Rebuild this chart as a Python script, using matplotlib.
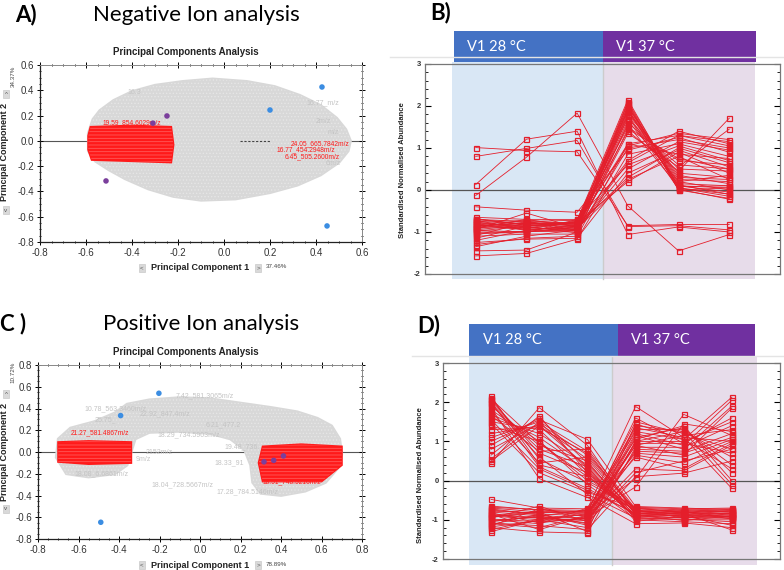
import matplotlib
matplotlib.use("Agg")
import numpy as np
import matplotlib.pyplot as plt
from matplotlib.patches import Polygon, Rectangle
from matplotlib.transforms import blended_transform_factory
from matplotlib.ticker import MultipleLocator

plt.rcParams['axes.unicode_minus'] = False
plt.rcParams['hatch.linewidth'] = 0.6

W, H = 784, 570

# ---------------- PCA, negative ion (A) ----------------
a_cloud_x = [-0.59, -0.57, -0.54, -0.48, -0.40, -0.30, -0.18, -0.05, 0.10, 0.22, 0.33, 0.42, 0.49,
             0.53, 0.55, 0.54, 0.50, 0.42, 0.32, 0.20, 0.05, -0.10, -0.22, -0.33, -0.43, -0.50, -0.56, -0.59]
a_cloud_y = [0.06, 0.17, 0.24, 0.32, 0.39, 0.44, 0.47, 0.49, 0.47, 0.43, 0.36, 0.28, 0.18,
             0.09, 0.0, -0.08, -0.17, -0.27, -0.35, -0.41, -0.46, -0.47, -0.44, -0.38, -0.30, -0.23, -0.16, -0.08]
a_red_x = [-0.58, -0.40, -0.23, -0.22, -0.23, -0.40, -0.575, -0.59, -0.59]
a_red_y = [0.11, 0.12, 0.11, -0.03, -0.17, -0.16, -0.15, -0.07, 0.04]
a_blue_x = [0.20, 0.426, 0.448]
a_blue_y = [0.244, 0.426, -0.673]
a_purple_x = [-0.309, -0.248, -0.513]
a_purple_y = [0.14, 0.197, -0.317]
a_red_labels = ["19.59_854.6029m/z", "24.05_665.7842m/z", "16.77_454.2948m/z", "6.45_505.2600m/z"]
a_red_lab_x = [-0.53, 0.29, 0.23, 0.265]
a_red_lab_y = [0.145, -0.022, -0.074, -0.126]
a_grey_labels = ["16.3", "16.77_m/z", "2m/z", "m/z", "6m/z"]
a_grey_lab_x = [-0.42, 0.36, 0.40, 0.45, 0.44]
a_grey_lab_y = [0.38, 0.30, 0.15, 0.07, -0.18]

# ---------------- PCA, positive ion (C) ----------------
c_cloud_x = [-0.71, -0.70, -0.64, -0.52, -0.42, -0.36, -0.25, -0.10, 0.05, 0.20, 0.35, 0.48, 0.58, 0.65,
             0.69, 0.70, 0.68, 0.62, 0.52, 0.40, 0.30, 0.26, 0.25, 0.22, 0.15, 0.05, -0.10, -0.25,
             -0.32, -0.34, -0.36, -0.42, -0.55, -0.66]
c_cloud_y = [-0.05, 0.12, 0.22, 0.28, 0.36, 0.44, 0.48, 0.50, 0.49, 0.45, 0.41, 0.37, 0.31, 0.24,
             0.12, -0.02, -0.15, -0.28, -0.36, -0.40, -0.38, -0.28, -0.12, 0.02, 0.12, 0.17, 0.19, 0.18,
             0.12, 0.0, -0.12, -0.20, -0.23, -0.20]
c_red1_x = [-0.70, -0.55, -0.34, -0.34, -0.55, -0.70]
c_red1_y = [0.09, 0.10, 0.09, -0.10, -0.11, -0.09]
c_red2_x = [0.31, 0.50, 0.70, 0.70, 0.60, 0.31, 0.29]
c_red2_y = [0.05, 0.07, 0.05, -0.12, -0.27, -0.27, -0.10]
c_blue_x = [-0.203, -0.392, -0.49]
c_blue_y = [0.54, 0.335, -0.646]
c_purple_x = [0.316, 0.364, 0.412]
c_purple_y = [-0.09, -0.077, -0.036]
c_red_labels = ["21.27_581.4867m/z", "18.51_748.5216m/z"]
c_red_lab_x = [-0.64, 0.31]
c_red_lab_y = [0.18, -0.27]
c_grey_labels = ["7.42_581.3065m/z", "10.78_563.3460m/z", "25.75_", "18.29_734.5903m/z", "6.21_477.2",
                 "19.48_736.", "2152m/z", "9m/z", "18.33_91", "18.04_728.5667m/z", "17.28_784.5146m/z",
                 "22.92_847.4m/z", "18.08_6.6861m/z"]
c_grey_lab_x = [-0.12, -0.57, -0.52, -0.21, 0.03, 0.12, -0.27, -0.32, 0.07, -0.24, 0.08, -0.30, -0.62]
c_grey_lab_y = [0.52, 0.40, 0.30, 0.16, 0.25, 0.05, 0.0, -0.07, -0.10, -0.30, -0.37, 0.35, -0.20]

# ---------------- Abundance profiles ----------------
timepoints = [1, 2, 3, 4, 5, 6]

# B: up in 37 C
b_up_rows = [
    [-0.70, -0.75, -0.72, 2.15, 0.05, -0.10],
    [-0.75, -0.80, -0.78, 2.10, 0.10, 0.05],
    [-0.80, -0.85, -0.80, 2.05, 0.00, -0.20],
    [-0.85, -0.78, -0.85, 2.00, 0.15, 0.10],
    [-0.90, -0.90, -0.75, 1.98, 0.20, 0.00],
    [-0.72, -0.95, -0.90, 1.95, 0.25, 0.20],
    [-0.95, -0.82, -0.95, 1.92, 0.05, -0.15],
    [-0.65, -0.70, -0.70, 1.90, 0.30, 0.25],
    [-1.00, -1.00, -0.88, 1.88, 0.10, -0.05],
    [-0.78, -0.88, -0.98, 1.85, 0.35, 0.15],
    [-0.88, -0.72, -0.82, 1.80, 0.40, 0.30],
    [-1.05, -0.98, -1.00, 1.75, 0.02, -0.22],
    [-0.82, -0.92, -0.76, 1.70, 0.50, 0.45],
    [-0.92, -0.76, -0.92, 1.65, 0.20, 0.35],
    [-1.10, -1.05, -1.05, 1.60, 0.60, 0.50],
    [-0.68, -0.84, -0.86, 1.55, 0.08, 0.10],
    [-0.98, -0.86, -0.74, 1.50, 0.70, 0.60],
    [-1.20, -0.96, -0.84, 1.40, 0.45, 1.71],
    [-0.74, -0.74, -0.96, 1.35, 0.55, 1.45],
    [-1.30, -1.15, -1.10, 1.10, 1.30, 1.15],
    [-0.86, -0.80, -0.80, 1.05, 1.35, 1.20],
    [-1.45, -1.43, -1.00, 1.00, 1.20, 1.00],
    [-0.40, -0.48, -0.53, 0.95, 1.25, 0.90],
    [-1.57, -1.51, -1.17, 0.85, 1.10, 0.80],
    [-0.94, -0.55, -0.90, 0.70, 1.40, 1.10],
    [-1.02, -1.02, -0.70, 0.60, 1.05, 0.70],
    [-0.76, -0.90, -0.94, 0.50, 1.15, 0.95],
    [-1.25, -1.17, -1.15, 0.40, 0.95, 0.55],
    [-0.84, -0.94, -0.86, 0.30, 1.00, 0.65],
    [-1.08, -0.78, -0.78, 0.20, 0.90, 0.40],
    [-0.96, -1.00, -0.92, 0.25, 0.80, 0.25],
    [-0.70, -0.82, -0.82, 1.10, 0.85, 0.75],
    [-1.15, -0.86, -1.02, 1.45, 0.75, 0.50],
    [-0.80, -0.96, -0.96, 2.08, 0.00, 0.05],
    [-0.90, -0.70, -0.88, 1.78, 0.12, -0.10],
    [-1.35, -1.10, -0.95, 0.65, 1.30, 1.05],
]
# B: down in 37 C
b_down_rows = [
    [1.01, 0.94, 0.91, -0.85, -0.82, -0.82],
    [0.80, 0.99, 1.18, -0.87, -0.85, -0.95],
    [0.13, 1.21, 1.40, -1.06, -0.88, -1.00],
    [-0.13, 0.78, 1.83, -0.38, -1.45, -1.06],
]

# D: down in 37 C
d_down_rows = [
    [2.15, 0.40, 0.10, -0.70, -0.75, -0.72],
    [2.10, 0.55, -0.05, -0.75, -0.80, -0.80],
    [2.05, 0.70, 0.20, -0.80, -0.85, -0.85],
    [2.00, 0.35, -0.20, -0.85, -0.90, -0.90],
    [1.98, 0.80, 0.35, -0.90, -0.95, -0.95],
    [1.95, 0.60, -0.35, -0.95, -1.00, -1.00],
    [1.90, 0.90, 0.50, -1.00, -1.05, -1.10],
    [1.85, 0.05, -0.43, -1.10, -1.08, -1.20],
    [1.80, 1.00, 0.00, -0.68, -0.72, -0.70],
    [1.75, 0.45, 0.60, -0.78, -0.82, -0.78],
    [1.70, 1.10, 0.25, -0.88, -0.88, -0.88],
    [1.65, 0.75, 0.80, -0.72, -0.78, -0.75],
    [1.60, 1.20, 0.40, -0.82, -0.92, -0.92],
    [1.50, 1.30, 0.15, -0.92, -0.80, -0.98],
    [1.40, 1.00, -0.10, -0.98, -0.98, -1.05],
    [1.30, 1.35, 0.70, -0.76, -0.86, -0.82],
    [1.20, 1.40, 0.55, -0.86, -0.76, -0.86],
    [1.10, 1.50, 0.30, -0.96, -0.94, -0.96],
    [1.00, 1.55, 1.05, -0.66, -0.70, -0.74],
    [0.90, 1.60, 0.45, -0.84, -0.84, -1.26],
    [0.80, 1.45, 0.65, -0.74, -0.96, -0.84],
    [0.65, 1.65, 0.20, -0.94, -0.88, -0.92],
    [0.55, 1.50, 0.75, -0.80, -0.74, -0.80],
    [0.45, 1.86, 0.90, -0.88, -1.02, -0.90],
    [0.50, 1.40, 0.35, -1.04, -0.90, -1.14],
    [1.45, 0.20, -0.30, -0.70, -0.82, -0.76],
    [1.55, 0.30, -0.25, -0.84, -0.78, -0.94],
    [2.08, 0.95, 0.10, -0.90, -0.86, -0.84],
]
# D: up in 37 C
d_up_rows = [
    [-0.48, -0.70, -0.72, 1.89, 1.10, 1.00],
    [-0.65, -0.75, -0.80, 1.50, 1.20, 0.80],
    [-0.70, -0.80, -0.85, 1.40, 1.25, 0.60],
    [-0.75, -0.85, -0.90, 1.30, 1.30, 0.40],
    [-0.80, -0.90, -0.75, 1.25, 1.05, 2.13],
    [-0.85, -0.95, -0.95, 1.20, 0.90, 2.05],
    [-0.90, -1.00, -1.00, 1.15, 0.80, 1.90],
    [-0.95, -0.65, -1.05, 1.10, 1.35, 0.20],
    [-1.00, -1.10, -0.70, 1.05, 1.40, 0.00],
    [-1.05, -0.90, -1.10, 1.00, 1.00, 1.50],
    [-1.10, -1.20, -0.88, 0.95, 0.95, 1.60],
    [-1.15, -0.72, -0.92, 0.90, 1.15, 1.30],
    [-1.20, -1.31, -1.34, 0.85, 0.85, 1.40],
    [-1.30, -1.00, -1.20, 0.80, 0.75, 1.20],
    [-0.72, -0.88, -0.98, 0.75, 0.70, 1.10],
    [-0.78, -0.82, -0.78, 0.70, 0.60, 1.05],
    [-0.88, -0.96, -1.02, 0.65, 0.45, 1.00],
    [-0.92, -0.78, -0.82, 0.60, 0.30, 0.95],
    [-0.98, -1.05, -0.96, 0.30, 0.25, 0.90],
    [-1.02, -0.92, -1.08, 0.20, 0.50, 0.80],
    [-1.08, -1.15, -1.25, 0.10, 0.19, 0.50],
    [-1.25, -0.98, -0.86, 0.05, 1.69, 1.15],
    [-0.82, -1.08, -0.94, -0.16, 1.45, 1.25],
    [-0.68, -0.74, -0.76, 1.35, 1.10, -0.20],
    [-1.12, -0.86, -1.14, 1.00, 1.25, -0.10],
    [-0.86, -1.25, -0.90, 1.60, 0.95, 0.70],
    [-0.94, -0.80, -1.30, 1.45, 1.05, 0.30],
    [-1.18, -1.02, -0.84, 0.90, 0.65, 1.85],
]

group_names = ["V1 28 \u00b0C", "V1 37 \u00b0C"]

RED = '#e41e2b'
HEAD_FONT = 'Lato'
PCA_FONT = 'Liberation Sans'


def px(x, y):
    return x / W, 1 - y / H


def box(x0, y0, x1, y1):
    return [x0 / W, 1 - y1 / H, (x1 - x0) / W, (y1 - y0) / H]


def small_button(fig, x, y, ch):
    fig.text(*px(x, y), ch, ha='center', va='center', fontsize=4.5, family=PCA_FONT, color='#555555',
             bbox=dict(boxstyle='square,pad=0.25', fc='#d9d9d9', ec='#c0c0c0', lw=0.4))


def pca_panel(ax, lim, cloud, reds, blue, purple, red_labels, grey_labels):
    ax.set_xlim(lim[0], lim[1])
    ax.set_ylim(lim[2], lim[3])
    ax.axhline(0, color='#555555', lw=0.8, zorder=1)
    pts = np.column_stack(cloud)
    ax.add_patch(Polygon(pts, closed=True, fc='#d8d8d8', ec='#d8d8d8', lw=2, zorder=2))
    # speckled texture of the overlapping labels
    ax.add_patch(Polygon(pts, closed=True, fill=False, hatch='.....', ec='#e6e6e6', lw=0, zorder=2.2))
    for txt, x, y in zip(*grey_labels):
        ax.text(x, y, txt, fontsize=5, color='#c4c4c4', family=PCA_FONT, zorder=2.5, va='center')
    for rx, ry in reds:
        rp = np.column_stack([rx, ry])
        ax.add_patch(Polygon(rp, closed=True, fc='#ff1a1a', ec='#ff1a1a', lw=1.5, zorder=3))
        ax.add_patch(Polygon(rp, closed=True, fill=False, hatch='-----', ec='#ff5a5a', lw=0, zorder=3.2))
    for txt, x, y in zip(*red_labels):
        ax.text(x, y, txt, fontsize=4.8, color='#ff1a1a', family=PCA_FONT, zorder=3.5, va='center')
    ax.scatter(blue[0], blue[1], s=16, color='#3b8de2', edgecolors='none', zorder=5)
    ax.scatter(purple[0], purple[1], s=16, color='#7b3f9c', edgecolors='none', zorder=5)
    ax.xaxis.set_major_locator(MultipleLocator(0.2))
    ax.xaxis.set_minor_locator(MultipleLocator(0.05))
    ax.yaxis.set_major_locator(MultipleLocator(0.2))
    ax.yaxis.set_minor_locator(MultipleLocator(0.05))
    ax.xaxis.set_major_formatter(lambda v, p: f"{v:.1f}")
    ax.yaxis.set_major_formatter(lambda v, p: f"{v:.1f}")
    ax.tick_params(which='major', direction='inout', length=4, width=0.7, top=True, right=True,
                   labelsize=7, labelcolor='#333333', pad=2)
    ax.tick_params(which='minor', direction='inout', length=2, width=0.6, top=True, right=True)
    for lab in ax.get_xticklabels() + ax.get_yticklabels():
        lab.set_family(PCA_FONT)
    for s in ['left', 'bottom']:
        ax.spines[s].set_color('#222222')
        ax.spines[s].set_linewidth(0.9)
    for s in ['top', 'right']:
        ax.spines[s].set_color('#888888')
        ax.spines[s].set_linewidth(0.7)


def profile_panel(ax, rows_a, rows_b, shade_edges, bar_edges, shade_y, bar_y, label_x):
    ax.set_xlim(0, 7)
    ax.set_ylim(-2, 3)
    tr = blended_transform_factory(ax.transData, ax.transAxes)
    shade_cols = ['#d9e7f5', '#e7dcea']
    bar_cols = ['#4472c4', '#7030a0']
    for i in range(2):
        ax.add_patch(Rectangle((shade_edges[i], shade_y[0]), shade_edges[i + 1] - shade_edges[i],
                               shade_y[1] - shade_y[0], transform=tr, fc=shade_cols[i], ec='none',
                               zorder=0, clip_on=False))
        ax.add_patch(Rectangle((bar_edges[i], bar_y[0]), bar_edges[i + 1] - bar_edges[i],
                               bar_y[1] - bar_y[0], transform=tr, fc=bar_cols[i], ec='none',
                               zorder=6, clip_on=False))
        ax.text(label_x[i], (bar_y[0] + bar_y[1]) / 2, group_names[i], transform=tr, color='white',
                fontsize=10.5, family=HEAD_FONT, va='center', ha='left', zorder=7)
    ax.plot([shade_edges[1], shade_edges[1]], [shade_y[0], shade_y[1]], transform=tr, color='#cccccc',
            lw=1, zorder=0.5, clip_on=False)
    ax.axhline(0, color='#555555', lw=0.9, zorder=1)
    for row in rows_a + rows_b:
        ax.plot(timepoints, row, color=RED, lw=0.6, marker='s', ms=3.6, mfc='none', mec=RED,
                mew=0.9, zorder=3)
    ax.set_xticks([])
    ax.yaxis.set_major_locator(MultipleLocator(1))
    ax.yaxis.set_minor_locator(MultipleLocator(0.2))
    ax.tick_params(axis='y', which='major', direction='in', length=4, width=0.8, left=True, right=True,
                   labelsize=5.5, labelcolor='#333333', pad=3)
    ax.tick_params(axis='y', which='minor', direction='in', length=2, width=0.6, left=True, right=True)
    for lab in ax.get_yticklabels():
        lab.set_family(PCA_FONT)
        lab.set_fontweight('bold')
    for s in ax.spines.values():
        s.set_color('#777777')
        s.set_linewidth(0.9)


fig = plt.figure(figsize=(W / 100, H / 100), dpi=100)

# --- A ---
axA = fig.add_axes(box(40, 65, 362, 242))
pca_panel(axA, (-0.8, 0.6, -0.8, 0.6), (a_cloud_x, a_cloud_y), [(a_red_x, a_red_y)],
          (a_blue_x, a_blue_y), (a_purple_x, a_purple_y),
          (a_red_labels, a_red_lab_x, a_red_lab_y), (a_grey_labels, a_grey_lab_x, a_grey_lab_y))
axA.plot([0.07, 0.2], [0, 0], color='#444444', lw=0.8, ls=(0, (2, 1.5)), zorder=4)

# --- C ---
axC = fig.add_axes(box(38, 365, 362, 539))
pca_panel(axC, (-0.8, 0.8, -0.8, 0.8), (c_cloud_x, c_cloud_y),
          [(c_red1_x, c_red1_y), (c_red2_x, c_red2_y)],
          (c_blue_x, c_blue_y), (c_purple_x, c_purple_y),
          (c_red_labels, c_red_lab_x, c_red_lab_y), (c_grey_labels, c_grey_lab_x, c_grey_lab_y))

for top, ylab_y, pct, pct_y, up_y, dn_y, xl_y, xpct in [(52, 152, "34.37%", 76, 94, 210, 268, "37.46%"),
                                                        (352, 452, "10.72%", 372, 394, 509, 565, "78.89%")]:
    fig.text(*px(186, top), "Principal Components Analysis", ha='center', va='center', fontsize=7,
             fontweight='bold', family=PCA_FONT, color='#222222')
    fig.text(*px(5, ylab_y), "Principal Component 2", ha='center', va='center', rotation=90,
             fontsize=6.5, fontweight='bold', family=PCA_FONT, color='#222222')
    fig.text(*px(13, pct_y), pct, ha='center', va='center', rotation=90, fontsize=4.5,
             family=PCA_FONT, color='#444444')
    small_button(fig, 6, up_y, "^")
    small_button(fig, 6, dn_y, "v")
    fig.text(*px(200, xl_y), "Principal Component 1", ha='center', va='center', fontsize=6.5,
             fontweight='bold', family=PCA_FONT, color='#222222')
    small_button(fig, 142, xl_y, "<")
    small_button(fig, 258, xl_y, ">")
    fig.text(*px(266, xl_y - 1), xpct, ha='left', va='center', fontsize=4.5, family=PCA_FONT, color='#444444')

# --- B ---
axB = fig.add_axes(box(425, 64, 780, 274))
profile_panel(axB, b_up_rows, b_down_rows, [0.53, 3.5, 6.5], [0.57, 3.5, 6.52],
              (-0.024, 1.01), (1.0095, 1.157), [0.83, 3.77])
# --- D ---
axD = fig.add_axes(box(443, 363, 780, 559))
profile_panel(axD, d_down_rows, d_up_rows, [0.54, 3.51, 6.53], [0.54, 3.64, 6.49],
              (-0.031, 1.036), (1.036, 1.199), [0.83, 3.91])

for x, y in [(402, 170), (420, 475)]:
    fig.text(*px(x, y), "Standardised Normalised Abundance", ha='center', va='center', rotation=90,
             fontsize=5.5, fontweight='bold', family=PCA_FONT, color='#222222')

fig.add_artist(plt.Line2D([390 / W, 1], [1 - 57 / H, 1 - 57 / H], color='#e4e4e4', lw=1))
fig.add_artist(plt.Line2D([412 / W, 1], [1 - 356 / H, 1 - 356 / H], color='#e4e4e4', lw=1))

# panel headings
for x, y, txt, bold in [(15, 15, "A)", True), (93, 15, "Negative Ion analysis", False),
                        (430, 13, "B)", True),
                        (0, 324, "C )", True), (103, 324, "Positive Ion analysis", False),
                        (417, 326, "D)", True)]:
    fig.text(*px(x, y), txt, ha='left', va='center', fontsize=16, family=HEAD_FONT,
             fontweight='bold' if bold else 'normal', color='black')

fig.savefig("out.png", dpi=100)
